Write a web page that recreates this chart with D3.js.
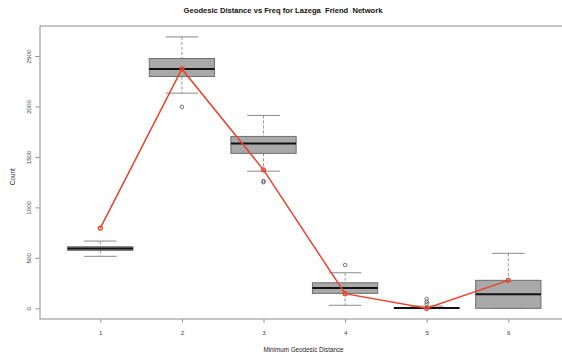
<!DOCTYPE html>
<html>
<head>
<meta charset="utf-8">
<script src="https://cdn.jsdelivr.net/npm/d3@7/dist/d3.min.js"></script>
<style>
  html, body { margin: 0; padding: 0; background: #fff; }
  svg { display: block; font-family: "Liberation Sans", Arial, sans-serif; }
</style>
</head>
<body>
<svg id="chart" width="562" height="358"></svg>
<script>
// Shortest-path length counts per distance, summarised over simulated networks
const distances = [1, 2, 3, 4, 5, 6];
const whiskerLow = [515, 2132, 1359, 30, 0, 0];
const q1 = [574, 2297, 1535, 148, 0, 0];
const medians = [592, 2372, 1634, 201, 2, 139];
const q3 = [610, 2475, 1703, 253, 6, 277];
const whiskerHigh = [666, 2689, 1911, 352, 22, 545];
const outliers = [[], [1996], [1250, 1262], [429], [45, 65, 92], []];
// Observed counts for the Lazega friendship network
const observed = [795, 2372, 1372, 145, 0, 277];
const yTicks = [0, 500, 1000, 1500, 2000, 2500];

const svg = d3.select("#chart");

const x = d3.scaleLinear().domain([1, 6]).range([100.3, 508.3]);
const y = d3.scaleLinear().domain([0, 2500]).range([308.3, 56]);
const unit = x(2) - x(1);
const boxW = unit * 0.8;
const capW = boxW * 0.5;

const plotLeft = 40, plotTop = 26, plotBottom = 319, plotRight = 566;

// plot frame
svg.append("rect")
  .attr("x", plotLeft).attr("y", plotTop)
  .attr("width", plotRight - plotLeft).attr("height", plotBottom - plotTop)
  .attr("fill", "none").attr("stroke", "#8c8c8c").attr("stroke-width", 1);

// y axis
const yAxis = d3.axisLeft(y).tickValues(yTicks).tickSize(4).tickPadding(4).tickFormat(d3.format("d"));
const gy = svg.append("g").attr("transform", `translate(${plotLeft - 0.5},0)`).call(yAxis);
gy.select(".domain").remove();
gy.selectAll(".tick line").attr("stroke", "#8c8c8c");
gy.selectAll(".tick text")
  .attr("font-size", 6.2).attr("fill", "#444")
  .attr("text-anchor", "middle")
  .attr("x", 0).attr("dy", 0)
  .attr("transform", "translate(-9,0) rotate(-90)");

// x axis
const xAxis = d3.axisBottom(x).tickValues(distances).tickSize(3).tickPadding(8).tickFormat(d3.format("d"));
const gx = svg.append("g").attr("transform", `translate(0,${plotBottom + 0.5})`).call(xAxis);
gx.select(".domain").remove();
gx.selectAll(".tick line").attr("stroke", "#8c8c8c");
gx.selectAll(".tick text").attr("font-size", 6.2).attr("fill", "#444");

// boxes
const g = svg.append("g");
distances.forEach((d, i) => {
  const cx = x(d);
  // whisker stems
  g.append("line").attr("x1", cx).attr("x2", cx)
    .attr("y1", y(whiskerHigh[i])).attr("y2", y(q3[i]))
    .attr("stroke", "#8a8a8a").attr("stroke-dasharray", "3,2").attr("stroke-width", 0.9);
  g.append("line").attr("x1", cx).attr("x2", cx)
    .attr("y1", y(q1[i])).attr("y2", y(whiskerLow[i]))
    .attr("stroke", "#8a8a8a").attr("stroke-dasharray", "3,2").attr("stroke-width", 0.9);
  // caps
  [whiskerHigh[i], whiskerLow[i]].forEach(v => {
    g.append("line").attr("x1", cx - capW / 2).attr("x2", cx + capW / 2)
      .attr("y1", y(v)).attr("y2", y(v))
      .attr("stroke", "#8a8a8a").attr("stroke-width", 1);
  });
  // box
  g.append("rect")
    .attr("x", cx - boxW / 2).attr("width", boxW)
    .attr("y", y(q3[i])).attr("height", Math.max(0, y(q1[i]) - y(q3[i])))
    .attr("fill", "#a9a9a9").attr("stroke", "#6e6e6e").attr("stroke-width", 1);
  // median
  g.append("line").attr("x1", cx - boxW / 2).attr("x2", cx + boxW / 2)
    .attr("y1", y(medians[i])).attr("y2", y(medians[i]))
    .attr("stroke", "#111").attr("stroke-width", 2);
  // outliers
  outliers[i].forEach(v => {
    g.append("circle").attr("cx", cx).attr("cy", y(v)).attr("r", 1.8)
      .attr("fill", "none").attr("stroke", "#555").attr("stroke-width", 0.8);
  });
});

// observed line
const red = "#e8442c";
svg.append("path")
  .datum(observed)
  .attr("d", d3.line().x((v, i) => x(distances[i])).y(v => y(v)))
  .attr("fill", "none").attr("stroke", red).attr("stroke-width", 1.5);
svg.selectAll(".obs").data(observed).enter().append("circle")
  .attr("cx", (v, i) => x(distances[i])).attr("cy", v => y(v)).attr("r", 2)
  .attr("fill", "none").attr("stroke", red).attr("stroke-width", 1.3);

// titles
svg.append("text").attr("x", 283).attr("y", 13)
  .style("white-space", "pre")
  .attr("text-anchor", "middle").attr("font-size", 7.6).attr("font-weight", "bold")
  .attr("fill", "#111").text("Geodesic Distance vs Freq for Lazega  Friend  Network");
svg.append("text").attr("x", 303.5).attr("y", 351.5)
  .attr("text-anchor", "middle").attr("font-size", 6.3).attr("fill", "#222")
  .text("Minimum Geodesic Distance");
svg.append("text").attr("transform", "translate(15,176.7) rotate(-90)")
  .attr("text-anchor", "middle").attr("font-size", 6.3).attr("fill", "#222")
  .text("Count");
</script>
</body>
</html>
